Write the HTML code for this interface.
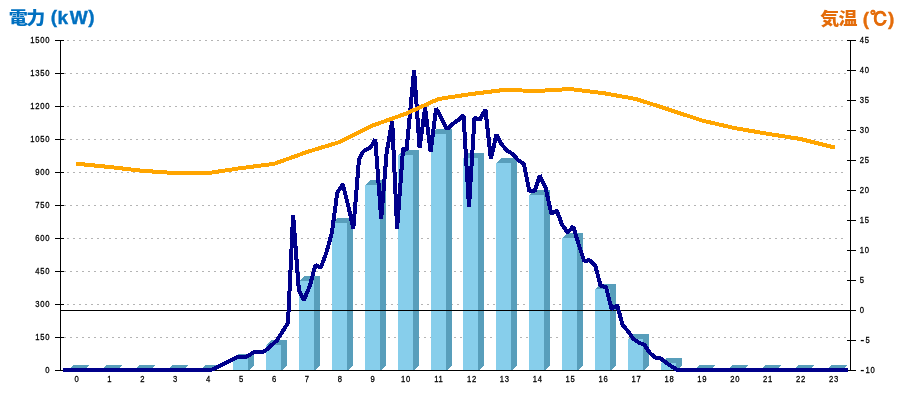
<!DOCTYPE html>
<html lang="ja"><head><meta charset="utf-8"><title>電力 / 気温</title>
<style>
html,body{margin:0;padding:0;background:#fff;}
body{width:900px;height:400px;overflow:hidden;position:relative;}
svg{position:absolute;left:0;top:0;display:block;}
.ttl{font-family:"Liberation Sans","Noto Sans CJK JP",sans-serif;font-weight:bold;font-size:18px;}
.cj{font-size:18px;font-weight:900;}.la{font-size:19px;stroke-width:0.4px;}
.dg{font-family:"Liberation Sans","IPAGothic",sans-serif;font-size:18px;stroke:#e46c0a;stroke-width:0.3px;}
.lb{font-family:"Liberation Sans",sans-serif;font-size:9.8px;fill:#000;stroke:#000;stroke-width:0.3px;letter-spacing:0.96px;}
</style></head><body>
<svg width="900" height="400" viewBox="0 0 900 400">
<rect x="0" y="0" width="900" height="400" fill="#fff"/>
<g shape-rendering="crispEdges" stroke="#b4b4b4" stroke-width="1" stroke-dasharray="2 4">
<line x1="67" y1="40.5" x2="847" y2="40.5"/>
<line x1="64" y1="73.5" x2="847" y2="73.5"/>
<line x1="67" y1="106.5" x2="847" y2="106.5"/>
<line x1="64" y1="139.5" x2="847" y2="139.5"/>
<line x1="67" y1="172.5" x2="847" y2="172.5"/>
<line x1="64" y1="205.5" x2="847" y2="205.5"/>
<line x1="67" y1="238.5" x2="847" y2="238.5"/>
<line x1="64" y1="271.5" x2="847" y2="271.5"/>
<line x1="67" y1="304.5" x2="847" y2="304.5"/>
<line x1="64" y1="337.5" x2="847" y2="337.5"/>
</g>
<g shape-rendering="crispEdges">
<polygon points="68.5,370 84.5,370 89.5,365 73.5,365" fill="#589ebb"/>
<polygon points="101.5,370 117.5,370 122.5,365 106.5,365" fill="#589ebb"/>
<polygon points="134.5,370 150.5,370 155.5,365 139.5,365" fill="#589ebb"/>
<polygon points="167.5,370 183.5,370 188.5,365 172.5,365" fill="#589ebb"/>
<polygon points="200.5,370 216.5,370 221.5,365 205.5,365" fill="#589ebb"/>
<polygon points="233.5,359 249.5,359 254.5,354 238.5,354" fill="#589ebb"/>
<polygon points="248,359.5 254,353.5 254,365.5 248,371.5" fill="#589ebb"/>
<rect x="233" y="359" width="15" height="12" fill="#87ceeb"/>
<polygon points="266.5,345 282.5,345 287.5,340 271.5,340" fill="#589ebb"/>
<polygon points="281,345.5 287,339.5 287,365.5 281,371.5" fill="#589ebb"/>
<rect x="266" y="345" width="15" height="26" fill="#87ceeb"/>
<polygon points="299.5,281 315.5,281 320.5,276 304.5,276" fill="#589ebb"/>
<polygon points="314,281.5 320,275.5 320,365.5 314,371.5" fill="#589ebb"/>
<rect x="299" y="281" width="15" height="90" fill="#87ceeb"/>
<polygon points="332.5,223 348.5,223 353.5,218 337.5,218" fill="#589ebb"/>
<polygon points="347,223.5 353,217.5 353,365.5 347,371.5" fill="#589ebb"/>
<rect x="332" y="223" width="15" height="148" fill="#87ceeb"/>
<polygon points="365.5,185 381.5,185 386.5,180 370.5,180" fill="#589ebb"/>
<polygon points="380,185.5 386,179.5 386,365.5 380,371.5" fill="#589ebb"/>
<rect x="365" y="185" width="15" height="186" fill="#87ceeb"/>
<polygon points="398.5,155 414.5,155 419.5,150 403.5,150" fill="#589ebb"/>
<polygon points="413,155.5 419,149.5 419,365.5 413,371.5" fill="#589ebb"/>
<rect x="398" y="155" width="15" height="216" fill="#87ceeb"/>
<polygon points="431.5,134 447.5,134 452.5,129 436.5,129" fill="#589ebb"/>
<polygon points="446,134.5 452,128.5 452,365.5 446,371.5" fill="#589ebb"/>
<rect x="431" y="134" width="15" height="237" fill="#87ceeb"/>
<polygon points="463.5,158 479.5,158 484.5,153 468.5,153" fill="#589ebb"/>
<polygon points="478,158.5 484,152.5 484,365.5 478,371.5" fill="#589ebb"/>
<rect x="463" y="158" width="15" height="213" fill="#87ceeb"/>
<polygon points="496.5,163 512.5,163 517.5,158 501.5,158" fill="#589ebb"/>
<polygon points="511,163.5 517,157.5 517,365.5 511,371.5" fill="#589ebb"/>
<rect x="496" y="163" width="15" height="208" fill="#87ceeb"/>
<polygon points="529.5,195 545.5,195 550.5,190 534.5,190" fill="#589ebb"/>
<polygon points="544,195.5 550,189.5 550,365.5 544,371.5" fill="#589ebb"/>
<rect x="529" y="195" width="15" height="176" fill="#87ceeb"/>
<polygon points="562.5,238 578.5,238 583.5,233 567.5,233" fill="#589ebb"/>
<polygon points="577,238.5 583,232.5 583,365.5 577,371.5" fill="#589ebb"/>
<rect x="562" y="238" width="15" height="133" fill="#87ceeb"/>
<polygon points="595.5,289 611.5,289 616.5,284 600.5,284" fill="#589ebb"/>
<polygon points="610,289.5 616,283.5 616,365.5 610,371.5" fill="#589ebb"/>
<rect x="595" y="289" width="15" height="82" fill="#87ceeb"/>
<polygon points="628.5,339 644.5,339 649.5,334 633.5,334" fill="#589ebb"/>
<polygon points="643,339.5 649,333.5 649,365.5 643,371.5" fill="#589ebb"/>
<rect x="628" y="339" width="15" height="32" fill="#87ceeb"/>
<polygon points="661.5,363 677.5,363 682.5,358 666.5,358" fill="#589ebb"/>
<polygon points="676,363.5 682,357.5 682,365.5 676,371.5" fill="#589ebb"/>
<rect x="661" y="363" width="15" height="8" fill="#87ceeb"/>
<polygon points="694.5,370 710.5,370 715.5,365 699.5,365" fill="#589ebb"/>
<polygon points="727.5,370 743.5,370 748.5,365 732.5,365" fill="#589ebb"/>
<polygon points="760.5,370 776.5,370 781.5,365 765.5,365" fill="#589ebb"/>
<polygon points="793.5,370 809.5,370 814.5,365 798.5,365" fill="#589ebb"/>
<polygon points="826.5,370 842.5,370 847.5,365 831.5,365" fill="#589ebb"/>
</g>
<g shape-rendering="crispEdges" stroke="#000" stroke-width="1">
<line x1="60" y1="310.5" x2="851" y2="310.5"/>
<line x1="60.5" y1="40" x2="60.5" y2="371"/>
<line x1="850.5" y1="40" x2="850.5" y2="371"/>
<line x1="55" y1="370.5" x2="856" y2="370.5"/>
<line x1="55" y1="40.5" x2="64" y2="40.5"/>
<line x1="55" y1="73.5" x2="64" y2="73.5"/>
<line x1="55" y1="106.5" x2="64" y2="106.5"/>
<line x1="55" y1="139.5" x2="64" y2="139.5"/>
<line x1="55" y1="172.5" x2="64" y2="172.5"/>
<line x1="55" y1="205.5" x2="64" y2="205.5"/>
<line x1="55" y1="238.5" x2="64" y2="238.5"/>
<line x1="55" y1="271.5" x2="64" y2="271.5"/>
<line x1="55" y1="304.5" x2="64" y2="304.5"/>
<line x1="55" y1="337.5" x2="64" y2="337.5"/>
<line x1="55" y1="370.5" x2="64" y2="370.5"/>
<line x1="847" y1="40.5" x2="856" y2="40.5"/>
<line x1="847" y1="70.5" x2="856" y2="70.5"/>
<line x1="847" y1="100.5" x2="856" y2="100.5"/>
<line x1="847" y1="130.5" x2="856" y2="130.5"/>
<line x1="847" y1="160.5" x2="856" y2="160.5"/>
<line x1="847" y1="190.5" x2="856" y2="190.5"/>
<line x1="847" y1="220.5" x2="856" y2="220.5"/>
<line x1="847" y1="250.5" x2="856" y2="250.5"/>
<line x1="847" y1="280.5" x2="856" y2="280.5"/>
<line x1="847" y1="310.5" x2="856" y2="310.5"/>
<line x1="847" y1="340.5" x2="856" y2="340.5"/>
<line x1="847" y1="370.5" x2="856" y2="370.5"/>
</g>
<polyline shape-rendering="crispEdges" fill="none" stroke="#00008b" stroke-width="4" stroke-linejoin="bevel" points="63,370 68.5,370 74,370 79.5,370 84.9,370 90.4,370 95.9,370 101.4,370 106.9,370 112.4,370 117.9,370 123.3,370 128.8,370 134.3,370 139.8,370 145.3,370 150.8,370 156.3,370 161.8,370 167.2,370 172.7,370 178.2,370 183.7,370 189.2,370 194.7,370 200.2,370 205.6,370 211,370 238,357 246,357 254.5,352 262,352 265.5,350.6 271.5,345.3 277,340.3 282.4,331.8 288,323 293.1,215 298.9,290.5 304,300 309.9,285.7 315.4,265.2 320.8,267.7 326.3,253 331.8,233 337.3,192.5 342.8,184.2 348.3,206 353.3,228.5 359,159.5 361.7,153.6 364.7,150.3 370.2,147.6 372.6,144.3 375.3,139.3 381.2,219 386.7,152 392.2,121.2 397.1,228.5 403.1,148.3 406.5,150.3 414.1,70 419.6,148 425.1,107.7 430.6,151.8 436.1,108.2 441.5,118.7 447,129.2 452.5,124 458,120.2 463.5,115.4 469,207 474.5,117.7 479.9,119.6 485.4,109.4 490.9,159 496.4,134.7 501.9,144.7 507.4,151 512.9,154 518.3,160.5 523.8,163.5 529.3,191 534.8,191 539.7,175.3 545.8,188.5 551.3,213.7 556.8,210.6 562.2,225 567.7,232.5 573.2,226.5 578.7,244.5 584.2,261 589.7,260.2 595.2,265.5 600.6,285.7 606.1,287.2 611.6,309 617.1,305.2 622.6,324.7 628.1,331.5 633.6,339 639,342.7 644.5,345 650,353.2 655.5,357.7 661,358.5 666.5,363 672,366.7 677.4,370 682.9,370 688.4,370 693.9,370 699.4,370 704.9,370 710.4,370 715.8,370 721.3,370 726.8,370 732.3,370 737.8,370 743.3,370 748.8,370 754.2,370 759.7,370 765.2,370 770.7,370 776.2,370 781.7,370 787.2,370 792.7,370 798.1,370 803.6,370 809.1,370 814.6,370 820.1,370 825.6,370 831.1,370 836.5,370 842,370 847.5,370"/>
<polyline shape-rendering="crispEdges" fill="none" stroke="#ffa500" stroke-width="4" stroke-linejoin="bevel" points="76,163.7 76.5,163.7 109.4,167 142.3,170.8 175.2,173.1 208.1,173.1 241,168.1 274,163.9 306.9,152 339.8,142 372.7,125.5 405.6,113.8 438.5,99 471.5,94 504.4,89.9 537.3,91 570.2,89 603.1,93.1 636,99 669,109.6 701.9,120.5 734.8,128.1 767.7,133.8 800.6,139 833.5,147.2 835,147.2"/>
<g class="lb">
<text transform="translate(50.2,43.3) scale(0.78,1)" text-anchor="end">1500</text>
<text transform="translate(50.2,76.3) scale(0.78,1)" text-anchor="end">1350</text>
<text transform="translate(50.2,109.3) scale(0.78,1)" text-anchor="end">1200</text>
<text transform="translate(50.2,142.3) scale(0.78,1)" text-anchor="end">1050</text>
<text transform="translate(50.2,175.3) scale(0.78,1)" text-anchor="end">900</text>
<text transform="translate(50.2,208.3) scale(0.78,1)" text-anchor="end">750</text>
<text transform="translate(50.2,241.3) scale(0.78,1)" text-anchor="end">600</text>
<text transform="translate(50.2,274.3) scale(0.78,1)" text-anchor="end">450</text>
<text transform="translate(50.2,307.3) scale(0.78,1)" text-anchor="end">300</text>
<text transform="translate(50.2,340.3) scale(0.78,1)" text-anchor="end">150</text>
<text transform="translate(50.2,373.3) scale(0.78,1)" text-anchor="end">0</text>
<text transform="translate(859.7,43.3) scale(0.78,1)">45</text>
<text transform="translate(859.7,73.3) scale(0.78,1)">40</text>
<text transform="translate(859.7,103.3) scale(0.78,1)">35</text>
<text transform="translate(859.7,133.3) scale(0.78,1)">30</text>
<text transform="translate(859.7,163.3) scale(0.78,1)">25</text>
<text transform="translate(859.7,193.3) scale(0.78,1)">20</text>
<text transform="translate(859.7,223.3) scale(0.78,1)">15</text>
<text transform="translate(859.7,253.3) scale(0.78,1)">10</text>
<text transform="translate(859.7,283.3) scale(0.78,1)">5</text>
<text transform="translate(859.7,313.3) scale(0.78,1)">0</text>
<text transform="translate(860.6,343.3) scale(0.78,1)" x="-0.6 6.4"><tspan font-size="16px" dy="2" stroke-width="0">-</tspan><tspan dy="-2">5</tspan></text>
<text transform="translate(860.6,373.3) scale(0.78,1)" x="-0.6 6.4 12.8"><tspan font-size="16px" dy="2" stroke-width="0">-</tspan><tspan dy="-2">10</tspan></text>
<text transform="translate(76.9,382.4) scale(0.78,1)" text-anchor="middle">0</text>
<text transform="translate(109.8,382.4) scale(0.78,1)" text-anchor="middle">1</text>
<text transform="translate(142.7,382.4) scale(0.78,1)" text-anchor="middle">2</text>
<text transform="translate(175.6,382.4) scale(0.78,1)" text-anchor="middle">3</text>
<text transform="translate(208.5,382.4) scale(0.78,1)" text-anchor="middle">4</text>
<text transform="translate(241.4,382.4) scale(0.78,1)" text-anchor="middle">5</text>
<text transform="translate(274.4,382.4) scale(0.78,1)" text-anchor="middle">6</text>
<text transform="translate(307.3,382.4) scale(0.78,1)" text-anchor="middle">7</text>
<text transform="translate(340.2,382.4) scale(0.78,1)" text-anchor="middle">8</text>
<text transform="translate(373.1,382.4) scale(0.78,1)" text-anchor="middle">9</text>
<text transform="translate(406,382.4) scale(0.78,1)" text-anchor="middle">10</text>
<text transform="translate(438.9,382.4) scale(0.78,1)" text-anchor="middle">11</text>
<text transform="translate(471.9,382.4) scale(0.78,1)" text-anchor="middle">12</text>
<text transform="translate(504.8,382.4) scale(0.78,1)" text-anchor="middle">13</text>
<text transform="translate(537.7,382.4) scale(0.78,1)" text-anchor="middle">14</text>
<text transform="translate(570.6,382.4) scale(0.78,1)" text-anchor="middle">15</text>
<text transform="translate(603.5,382.4) scale(0.78,1)" text-anchor="middle">16</text>
<text transform="translate(636.4,382.4) scale(0.78,1)" text-anchor="middle">17</text>
<text transform="translate(669.4,382.4) scale(0.78,1)" text-anchor="middle">18</text>
<text transform="translate(702.3,382.4) scale(0.78,1)" text-anchor="middle">19</text>
<text transform="translate(735.2,382.4) scale(0.78,1)" text-anchor="middle">20</text>
<text transform="translate(768.1,382.4) scale(0.78,1)" text-anchor="middle">21</text>
<text transform="translate(801,382.4) scale(0.78,1)" text-anchor="middle">22</text>
<text transform="translate(833.9,382.4) scale(0.78,1)" text-anchor="middle">23</text>
</g>
<text class="ttl cj" transform="translate(8.7,24) scale(1.056,0.927)" fill="#0070c0">電</text>
<text class="ttl cj" transform="translate(26.3,24) scale(1.056,0.927)" fill="#0070c0">力</text>
<text class="ttl la" x="50.7" y="23.3" fill="#0070c0" stroke="#0070c0">(</text>
<text class="ttl la" x="57.5" y="24" fill="#0070c0" stroke="#0070c0">k</text>
<text class="ttl la" x="69.8" y="24" fill="#0070c0" stroke="#0070c0">W</text>
<text class="ttl la" x="88.2" y="23.3" fill="#0070c0" stroke="#0070c0">)</text>
<text class="ttl cj" transform="translate(820.2,25) scale(1.056,0.927)" fill="#e46c0a">気</text>
<text class="ttl cj" transform="translate(838.4,25) scale(1.056,0.927)" fill="#e46c0a">温</text>
<text class="ttl la" x="862.7" y="25" fill="#e46c0a" stroke="#e46c0a">(</text>
<text class="ttl dg" transform="translate(870.1,26.3) scale(1.0,1.06)" fill="#e46c0a">℃</text>
<text class="ttl la" x="888.0" y="25" fill="#e46c0a" stroke="#e46c0a">)</text>
</svg>
</body></html>
